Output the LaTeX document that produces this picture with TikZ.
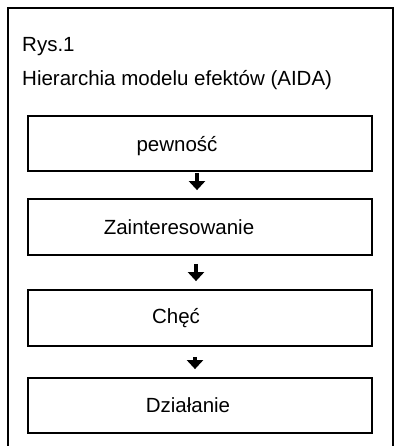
\documentclass[tikz,border=0pt]{standalone}
\usepackage{fontspec}
\setmainfont{Liberation Sans}
\usetikzlibrary{arrows.meta}
\begin{document}
\begin{tikzpicture}[x=1pt,y=-1pt,
  stage/.style={draw=black,line width=1.8pt,minimum width=344pt,inner sep=0pt},
  lab/.style={inner sep=0pt,font=\fontsize{20.5}{24}\selectfont},
  flow/.style={line width=3.5pt,-{Triangle[width=16pt,length=9pt]},shorten >=8pt,shorten <=2pt}]
\useasboundingbox (0,0) rectangle (397,446);
\draw[line width=1.8pt] (8,450) -- (8,8) -- (393,8) -- (393,450);
\node[lab,anchor=base west] (rys) at (22,52) {Rys.1};
\node[lab,anchor=base west] (title) at (22,86) {Hierarchia modelu efektów (AIDA)};
\node[stage,minimum height=55pt] (b1) at (200,143.5) {};
\node[stage,minimum height=56pt] (b2) at (200,227) {};
\node[stage,minimum height=56pt] (b3) at (200,318) {};
\node[stage,minimum height=55pt] (b4) at (200,405.5) {};
\node[lab] (t1) at (177,146) {pewność};
\node[lab] (t2) at (179,227) {Zainteresowanie};
\node[lab] (t3) at (176,318) {Chęć};
\node[lab] (t4) at (188,405) {Działanie};
\draw[flow,shorten <=1pt] (b1.south -| 197,0) -- (b2.north -| 197,0);
\draw[flow,shorten <=8pt] (b2.south -| 196,0) -- (b3.north -| 196,0);
\draw[flow,shorten <=10pt] (b3.south -| 195,0) -- (b4.north -| 195,0);
\end{tikzpicture}
\end{document}
